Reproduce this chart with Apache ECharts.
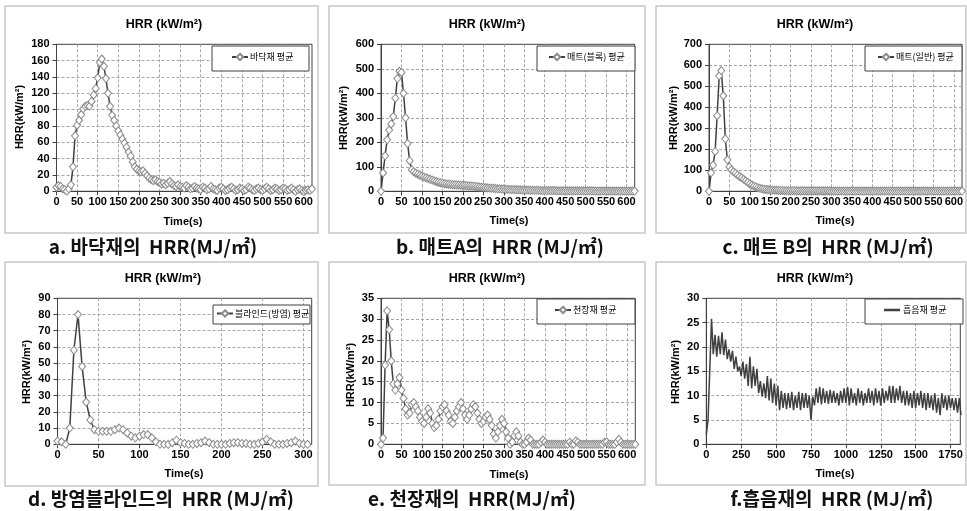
<!DOCTYPE html>
<html><head><meta charset="utf-8">
<script src="https://cdn.jsdelivr.net/npm/echarts@6/dist/echarts.min.js"></script>
<style>html,body{margin:0;padding:0;background:#fff}#c{width:967px;height:511px}</style>
</head><body><div id="c"></div>
<script>
// ---------------- DATA ----------------
const STEP = 5;        // s, sampling of panels a-e
const STEP_F = 12.5;   // s, sampling of panel f (peaks / troughs)

// a. 바닥재
const hrrFloor = [
  5,7,6,3,2,0,3,8,30,68,
  81,87,94,101,104,105,104,110,118,126,
  139,158,162,153,138,120,104,93,87,80,
  74,69,64,59,54,48,43,36,30,27,
  25,24,25,22,19,16,14,13,14,12,
  11,9,10,8,10,12,9,7,6,8,
  6,5,4,7,5,3,4,6,4,3,
  2,5,4,2,3,6,3,2,1,4,
  5,3,1,2,4,5,3,1,2,4,
  3,1,2,5,4,2,1,3,4,2,
  1,3,5,3,1,2,4,3,1,2,
  4,3,1,2,4,2,0,2,3,1,
  0,1,2,1,3
];
// b. 매트A (블록)
const hrrMatBlock = [
  0,75,145,210,250,275,305,380,460,490,
  485,400,300,195,125,88,80,74,70,66,
  62,58,55,52,49,46,43,40,37,35,
  33,31,30,29,28,27,27,26,26,25,
  24,24,23,22,22,21,20,19,18,17,
  16,15,14,13,12,12,11,10,10,9,
  9,8,8,7,7,7,6,6,6,5,
  5,5,5,4,4,4,4,4,3,3,
  3,3,3,3,3,3,2,2,2,2,
  2,2,2,2,2,2,2,2,2,2,
  2,2,2,2,2,1,1,1,1,1,
  1,1,1,1,1,1,1,1,1,1,
  1,1,1,1,1
];
// c. 매트B (일반)
const hrrMatGeneral = [
  0,88,125,190,360,550,575,455,250,150,
  116,102,93,86,78,71,64,57,50,43,
  35,30,25,21,17,14,12,10,9,8,
  7,6,5,5,4,4,4,3,3,3,
  3,3,3,2,2,2,2,2,2,2,
  2,2,2,2,2,2,2,2,2,2,
  1,1,1,1,1,1,1,1,1,1,
  1,1,1,1,1,1,1,1,1,1,
  1,1,1,1,1,1,1,1,1,1,
  1,1,1,1,1,1,1,1,1,1,
  1,1,1,1,1,1,1,1,1,1,
  1,1,1,1,1,1,1,1,1,1,
  1,1,1,1,1
];
// d. 방염블라인드
const hrrBlind = [
  2,1.5,0,10,58,80,48,26,15,9,
  8,8,8,8,9,10,9,7,5,4,
  5,6,6,4,1.5,0,0,0,1,2.5,
  1,0.5,0,0,0.5,1,2,1,0,0,
  0,0,0.5,1,1,0.5,0.5,0,0,0.5,
  1.5,3,1.5,0,0,0,0.5,1,2,0.5,
  0,0
];
// e. 천장재
const hrrCeiling = [
  0,1.5,19,32,27.5,20,14.5,13,14.5,16,
  13,11,8.5,7,7.5,9.5,10,9,8,6.5,
  5.5,5,6.5,8.5,7.5,5,4,4.5,6,8,
  9,9.5,8,7,5.5,5,6.5,8,9,10,
  8.5,7,6,7,8.5,9.5,9,7.5,6,5,
  5.5,6.5,7,6,4.5,2.5,1.5,3,4.5,6,
  5,3,1.5,0,0.5,2,3,2,0.5,0,
  0,0.5,1.5,1,0,0,0,0,0.5,1,
  0.5,0,0,0,0,0,0,0,0,0,
  0,0,0.5,0,0,0.8,0.5,0,0,0,
  0,0,0,0,0,0,0,0,0,0.5,
  0.6,0,0,0,0,0.5,1.2,0.5,0,0,
  0,0,0,0,0
];
// f. 흡음재
const hrrAbsorb = [
  2,5,5,25.8,18.5,22.5,18,22.3,
  18.5,23,18.3,21.5,17.5,19.5,17,19.2,
  15.5,18,15,16,14,17,13.5,16.5,
  12,18,11.5,16,12,15.5,10.5,13,
  9.8,12.5,9.5,14,9,13.5,8.5,12.5,
  8,12,7,11,7.5,10.5,7.2,10.5,
  7.5,10.8,7,10,7.5,10.8,7,10.5,
  7.5,10.5,7.5,10,5,9.8,8,11.5,
  8.5,11.8,8.2,11.5,8.5,11,8.3,11.2,
  8.5,11,8.5,10.5,8,11,8.5,11.5,
  8.5,11.8,8,11.5,8.5,10.5,8,11.5,
  8.5,11,8,10.5,8.5,11.5,8.5,11,
  8,11.5,8.5,11,8,11.5,8.5,11,
  9,12,8.5,12,8.5,11.5,9,12,
  8.5,11,8,11,8,10.5,7.5,11,
  7.5,10.5,8,11,7.5,10.5,7,10.5,
  7.5,10,7,10.5,6.5,9.5,6,10.5,
  7.5,10,7,10,7.5,9.5,7,9.5,
  6.5,9.5,6
];

const seriesNames = ['바닥재 평균','매트(블록) 평균','매트(일반) 평균','블라인드(방염) 평균','천장재 평균','흡음재 평균'];
const captions = ['a. 바닥재의  HRR(MJ/㎡)','b. 매트A의  HRR (MJ/㎡)','c. 매트 B의  HRR (MJ/㎡)',
                  'd. 방염블라인드의  HRR (MJ/㎡)','e. 천장재의  HRR(MJ/㎡)','f.흡음재의  HRR (MJ/㎡)'];
const chartTitle = 'HRR (kW/m²)';
const yAxisTitle = 'HRR(kW/m²)';
const xAxisTitle = 'Time(s)';
const yMax = [180,600,700,90,35,30];
const yInterval = [20,100,100,10,5,5];
const xMax = [620,620,620,310,620,1820];
const xInterval = [50,50,50,50,50,250];

// ---------------- LAYOUT ----------------
const panels = [
  {box:[5,6,313,227],  grid:[56.5,44.3,255.5,147], title:[164,25],  yName:[20,117],  xName:[183,222], cap:[153,247], leg:{box:[212,46,97,25], left:231, top:52.5}},
  {box:[329,6,316,227],grid:[381,44.3,253.7,147],  title:[487,25],  yName:[344,118], xName:[509,221], cap:[500,247], leg:{box:[537,46,98,25], left:548, top:52.5}},
  {box:[656,6,310,227],grid:[709,44.3,253,147],    title:[815,25],  yName:[674,118], xName:[835,221], cap:[828,247], leg:{box:[865,46,97,25], left:877, top:52.5}},
  {box:[5,262,313,224],grid:[57.5,298.3,254.2,146],title:[163,279], yName:[27,372],  xName:[184,474], cap:[161,499], leg:{box:[213,305,97,19], left:216, top:309}},
  {box:[329,262,316,223],grid:[381,298.3,254.3,146],title:[487,279],yName:[351,375], xName:[509,475], cap:[472,499], leg:{box:[537,299,98,25], left:554, top:305.5}},
  {box:[656,262,310,223],grid:[706.3,298.3,254,146],title:[815,279],yName:[676,372], xName:[835,474], cap:[832,499], leg:{box:[865,299,98,25], left:884, top:305.5}}
];

const dataSets = [hrrFloor, hrrMatBlock, hrrMatGeneral, hrrBlind, hrrCeiling, hrrAbsorb];
const steps = [STEP, STEP, STEP, STEP, STEP, STEP_F];

const grids = [], xAxes = [], yAxes = [], series = [], legends = [], graphics = [];
const AX = '#404040';
const labelFont = 'Liberation Sans';
const plain = v => String(v);

panels.forEach((p, i) => {
  grids.push({left:p.grid[0], top:p.grid[1], width:p.grid[2], height:p.grid[3],
    show:true, borderColor:AX, borderWidth:1, backgroundColor:'#fff',
    containLabel:false, outerBoundsMode:'none'});
  xAxes.push({type:'value', gridIndex:i, min:0, max:xMax[i], interval:xInterval[i],
    axisLine:{show:true, onZero:false, lineStyle:{color:AX, width:1}},
    axisTick:{show:true, length:4, lineStyle:{color:AX}},
    axisLabel:{show:true, fontSize:11, fontWeight:'bold', color:'#000', fontFamily:labelFont, margin:5, formatter:plain,
      showMinLabel:true, showMaxLabel: xMax[i] % xInterval[i] === 0, hideOverlap:false},
    splitLine:{show:true, showMinLine:false, showMaxLine:false, lineStyle:{color:'#a6a6a6', type:[3,2], width:1}}});
  yAxes.push({type:'value', gridIndex:i, min:0, max:yMax[i], interval:yInterval[i],
    axisLine:{show:true, onZero:false, lineStyle:{color:AX, width:1}},
    axisTick:{show:true, length:4, lineStyle:{color:AX}},
    axisLabel:{show:true, fontSize:11, fontWeight:'bold', color:'#000', fontFamily:labelFont, margin:7, formatter:plain, hideOverlap:false},
    splitLine:{show:true, showMinLine:false, showMaxLine:false, lineStyle:{color:'#a6a6a6', type:[3,2], width:1}}});
  const withMarks = i < 5;
  series.push({type:'line', name:seriesNames[i], xAxisIndex:i, yAxisIndex:i,
    data: dataSets[i].map((v, k) => [k * steps[i], v]),
    symbol: withMarks ? 'diamond' : 'none', symbolSize:[7,8], showSymbol:withMarks, showAllSymbol:true,
    lineStyle:{color:'#404040', width: 1.5},
    itemStyle: withMarks ? {color:'#fff', borderColor:'#8a8a8a', borderWidth:1} : {color:'#404040'},
    emphasis:{disabled:true}, animation:false, clip:true, z:3});
  const leg = {data:[seriesNames[i]], left:p.leg.left, top:p.leg.top, padding:0, orient:'horizontal',
    itemWidth:16, itemHeight:8, itemGap:0, selectedMode:false, z:20,
    textStyle:{fontSize:9, color:'#000', fontFamily:'Noto Sans CJK KR', padding:[0,0,0,-3]}};
  if (!withMarks) { leg.icon = 'rect'; leg.itemHeight = 2.5; leg.itemWidth = 16; leg.textStyle.padding = [0,0,0,-2]; }
  legends.push(leg);

  graphics.push({type:'rect', z:0, silent:true, shape:{x:p.box[0], y:p.box[1], width:p.box[2], height:p.box[3]},
    style:{fill:'none', stroke:'#c8c8c8', lineWidth:1.5}});
  graphics.push({type:'rect', z:15, silent:true, shape:{x:p.leg.box[0], y:p.leg.box[1], width:p.leg.box[2], height:p.leg.box[3]},
    style:{fill:'#fff', stroke:'#404040', lineWidth:1}});
  graphics.push({type:'text', z:15, silent:true, x:p.title[0], y:p.title[1],
    style:{text:chartTitle, font:'bold 12.5px "Liberation Sans"', fill:'#000', align:'center', verticalAlign:'middle'}});
  graphics.push({type:'text', z:15, silent:true, x:p.yName[0], y:p.yName[1], rotation:Math.PI/2,
    style:{text:yAxisTitle, font:'bold 11px "Liberation Sans"', fill:'#000', align:'center', verticalAlign:'middle'}});
  graphics.push({type:'text', z:15, silent:true, x:p.xName[0], y:p.xName[1],
    style:{text:xAxisTitle, font:'bold 11px "Liberation Sans"', fill:'#000', align:'center', verticalAlign:'middle'}});
  graphics.push({type:'text', z:15, silent:true, x:p.cap[0], y:p.cap[1],
    style:{text:captions[i], font:'bold 19px "Noto Sans CJK KR"', fill:'#111', align:'center', verticalAlign:'middle'}});
});

const chart = echarts.init(document.getElementById('c'), null, {renderer:'canvas'});
chart.setOption({
  animation:false,
  backgroundColor:'#fff',
  grid:grids, xAxis:xAxes, yAxis:yAxes, series:series, legend:legends,
  graphic:{elements:graphics}
});
</script>
</body></html>
